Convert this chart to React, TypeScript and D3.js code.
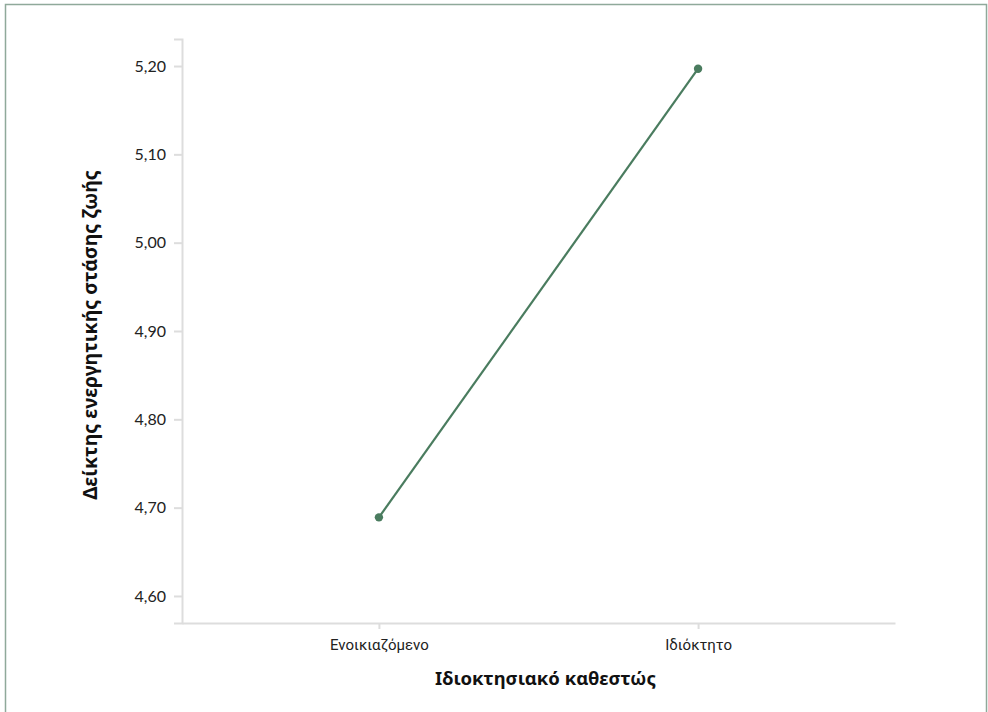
import React, { useEffect, useRef } from "react";
import * as d3 from "d3";

const categories = ["Ενοικιαζόμενο", "Ιδιόκτητο"];
const values = [4.689, 5.197];
const yTicks = [4.6, 4.7, 4.8, 4.9, 5.0, 5.1, 5.2];
const xTitle = "Ιδιοκτησιακό καθεστώς";
const yTitle = "Δείκτης ενεργητικής στάσης ζωής";

const W = 988;
const H = 712;
const M = { left: 182, right: 93, top: 39, bottom: 89 };
const LINE = "#4a7c5f";
const AXIS = "#dddddd";

export default function App() {
  const ref = useRef<SVGSVGElement>(null);
  useEffect(() => {
    const svg = d3.select(ref.current);
    svg.selectAll("*").remove();
    const x = d3.scalePoint<string>().domain(categories).range([M.left, W - M.right]).padding(0.617);
    const y = d3.scaleLinear().domain([4.5694, 5.2306]).range([H - M.bottom, M.top]);

    svg.append("rect").attr("x", 5.5).attr("y", 4.5).attr("width", 981).attr("height", 720)
      .attr("fill", "white").attr("stroke", "#8fa99a").attr("stroke-width", 1.5);

    // y axis
    const ya = svg.append("g").attr("transform", `translate(${M.left},0)`)
      .call(d3.axisLeft(y).tickValues(yTicks).tickSize(8).tickPadding(8)
        .tickFormat((d) => d3.format(".2f")(d as number).replace(".", ",")));
    ya.select(".domain").attr("stroke", AXIS).attr("stroke-width", 2);
    ya.selectAll(".tick line").attr("stroke", AXIS).attr("stroke-width", 2);
    ya.selectAll(".tick text").attr("fill", "#222").attr("font-size", 16)
      .attr("font-family", "Lato, 'Noto Sans', sans-serif");

    // x axis
    const xa = svg.append("g").attr("transform", `translate(0,${H - M.bottom})`)
      .call(d3.axisBottom(x).tickSize(6).tickPadding(10).tickSizeOuter(0));
    xa.select(".domain").attr("stroke", AXIS).attr("stroke-width", 2);
    xa.selectAll(".tick line").attr("stroke", AXIS).attr("stroke-width", 2);
    xa.selectAll(".tick text").attr("fill", "#222").attr("font-size", 15)
      .attr("font-family", "'Liberation Sans Narrow', 'Roboto', sans-serif");

    // titles
    svg.append("text").attr("x", (M.left + W - M.right) / 2 + 7).attr("y", 685)
      .attr("text-anchor", "middle").attr("font-size", 18.5).attr("font-weight", "bold")
      .attr("font-family", "'Noto Sans', sans-serif").attr("fill", "#111").text(xTitle);
    svg.append("text").attr("transform", `translate(97,${(M.top + H - M.bottom) / 2 + 4}) rotate(-90)`)
      .attr("text-anchor", "middle").attr("font-size", 19.5).attr("font-weight", "bold")
      .attr("font-family", "'Noto Sans', sans-serif").attr("fill", "#111").text(yTitle);

    const data = categories.map((c, i) => ({ c, v: values[i] }));
    const line = d3.line<{ c: string; v: number }>().x((d) => x(d.c)!).y((d) => y(d.v));
    svg.append("path").datum(data).attr("d", line).attr("fill", "none")
      .attr("stroke", LINE).attr("stroke-width", 2.2);
    svg.selectAll("circle.pt").data(data).enter().append("circle")
      .attr("cx", (d) => x(d.c)!).attr("cy", (d) => y(d.v)).attr("r", 4.2).attr("fill", LINE);
  }, []);
  return (
    <svg ref={ref} width={W} height={H}
      style={{ position: "absolute", left: 0, top: 0, display: "block" }} />
  );
}
